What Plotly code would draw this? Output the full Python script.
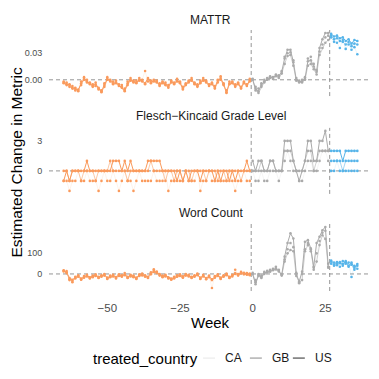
import plotly.graph_objects as go

# ---------------------------------------------------------------- data
weeks = list(range(-65, 37))
countries = ["CA", "GB", "US"]
metric_titles = ["MATTR", "Flesch\u2212Kincaid Grade Level", "Word Count"]

# MATTR (pre weeks -65..-1, mid 0..26, post 27..36)
mattr_us = [
    -0.003, -0.005, -0.006, -0.009, -0.010, -0.012, -0.004, 0.001, -0.002, -0.004,
    -0.007, -0.005, -0.009, -0.013, -0.006, 0.001, -0.001, -0.004, -0.003, -0.006,
    -0.008, -0.012, -0.004, 0.000, -0.002, -0.003, 0.000, -0.001, -0.004, 0.002,
    -0.003, -0.001, -0.002, -0.006, -0.003, -0.005, -0.008, -0.002, -0.004, -0.001,
    -0.003, -0.010, -0.005, -0.002, 0.000, -0.004, -0.007, -0.003, 0.000, -0.002,
    -0.006, -0.004, -0.009, -0.001, 0.002, -0.005, -0.014, -0.004, -0.003, -0.007,
    -0.004, -0.009, -0.003, -0.006, -0.001,
    0.000, -0.010, -0.013, -0.006, -0.002, 0.001, 0.003, 0.002, 0.005, 0.004,
    0.009, 0.024, 0.034, 0.034, 0.020, 0.000, -0.002, -0.002, 0.001, 0.021,
    0.022, 0.015, 0.009, 0.036, 0.046, 0.053, 0.053,
    0.052, 0.049, 0.050, 0.047, 0.048, 0.044, 0.046, 0.041, 0.045, 0.044,
]
mattr_gb = [
    -0.004, -0.006, -0.008, -0.010, -0.012, -0.011, -0.006, 0.000, -0.003, -0.005,
    -0.008, -0.007, -0.010, -0.014, -0.008, 0.000, -0.002, -0.005, -0.004, -0.007,
    -0.009, -0.013, -0.006, -0.001, -0.003, -0.004, -0.001, -0.002, -0.005, 0.001,
    -0.004, -0.002, -0.003, -0.007, -0.004, -0.006, -0.009, -0.003, -0.005, -0.002,
    -0.004, -0.011, -0.006, -0.003, -0.001, -0.005, -0.008, -0.004, -0.001, -0.003,
    -0.007, -0.005, -0.010, -0.003, 0.000, -0.006, -0.015, -0.005, -0.004, -0.008,
    -0.005, -0.010, -0.004, -0.007, -0.002,
    0.000, -0.012, -0.015, -0.008, -0.003, 0.000, 0.002, 0.003, 0.004, 0.002,
    0.007, 0.018, 0.027, 0.028, 0.016, -0.001, -0.003, -0.003, 0.000, 0.016,
    0.018, 0.012, 0.006, 0.028, 0.036, 0.042, 0.045,
    0.050, 0.046, 0.047, 0.044, 0.043, 0.040, 0.043, 0.038, 0.041, 0.040,
]
mattr_ca = [
    -0.002, -0.003, -0.005, -0.007, -0.009, -0.013, -0.002, 0.003, 0.000, -0.003,
    -0.005, -0.003, -0.011, -0.012, -0.004, 0.003, 0.000, -0.002, -0.001, -0.005,
    -0.006, -0.010, -0.002, 0.002, -0.001, -0.001, 0.002, 0.000, 0.010, -0.002,
    -0.001, 0.000, -0.001, -0.004, -0.002, -0.003, -0.006, -0.001, -0.003, 0.001,
    -0.002, -0.008, -0.004, -0.001, 0.002, -0.003, -0.005, -0.001, 0.002, -0.001,
    -0.005, -0.003, -0.007, 0.000, 0.004, -0.004, -0.012, -0.002, -0.002, -0.005,
    -0.003, -0.008, -0.002, -0.005, 0.001,
    0.001, -0.008, -0.010, -0.004, 0.000, 0.002, 0.004, 0.001, 0.006, 0.005,
    0.010, 0.026, 0.030, 0.031, 0.022, 0.002, -0.001, 0.000, 0.003, 0.024,
    0.026, 0.018, 0.011, 0.032, 0.040, 0.048, 0.050,
    0.048, 0.043, 0.042, 0.036, 0.045, 0.035, 0.040, 0.034, 0.037, 0.029,
]

# Flesch-Kincaid grade level
flesch_us = [
    -1, 0, -1, 0, 0, 0, 0, 0, 1, 0,
    0, 0, 0, 0, 0, 0, 0, 1, 1, 1,
    0, 1, 0, 1, 0, 0, 0, 0, 0, 1,
    1, 1, 1, 1, 0, 0, 0, 0, 0, -1,
    0, -1, 0, -1, 0, 0, 0, -1, 0, 0,
    0, 0, -1, 0, -1, 0, 0, -1, 0, -1,
    0, 0, 0, 1, 0,
    1, 0, 1, 1, 0, 0, 1, 1, 0, 0,
    0, 3, 3, 3, 1, 0, -1, 0, 1, 3,
    3, 1, 1, 3, 3, 4, 2,
    2, 2, 2, 2, 1, 2, 2, 2, 2, 2,
]
flesch_gb = [
    0, 0, -1, 0, 0, 0, -1, 0, 0, 0,
    0, -1, 0, 0, 0, 0, 1, 0, 0, 0,
    0, 0, -1, 0, 0, 0, 0, 0, 0, 0,
    1, 0, 0, 0, 0, -1, 0, 0, -1, 0,
    0, -1, 0, 0, -1, 0, 0, 0, 0, -1,
    0, 0, 0, -1, 0, 0, -1, 0, 0, 0,
    0, -1, 0, 0, 0,
    0, 0, 0, 1, 0, 0, 1, 1, 0, 0,
    0, 2, 2, 2, 1, 0, 0, 0, 1, 2,
    2, 0, 1, 2, 2, 2, 2,
    1, 1, 1, 1, 0, 1, 1, 1, 1, 1,
]
flesch_ca = [
    -1, -1, -2, -1, -1, 0, -1, -1, 0, -1,
    -1, -1, -2, -1, 0, -1, -1, 0, -1, -2,
    -1, 0, -1, -1, -2, -1, 0, -1, -1, -1,
    -1, 0, -1, -1, -1, 0, -2, -1, -1, 0,
    -1, -1, 0, -1, -1, -1, 0, -2, -1, -1,
    0, -1, -1, 0, -1, -1, -1, 0, -1, -2,
    -1, -1, 0, -1, -1,
    0, -1, -1, 0, -1, -1, 0, 0, 0, -1,
    0, 1, 2, 1, 0, 0, -1, -1, 0, 1,
    1, 0, 0, 1, 2, 2, 1,
    0, 0, 1, 0, 0, 0, 0, 0, 0, 0,
]

# Word count
wc_us = [
    15, 8, -20, -28, -18, -10, -22, -14, -8, -16,
    -12, -6, -14, -10, -4, -18, -12, -8, -15, -6,
    -10, -2, -14, -8, -12, -18, -6, -3, -10, -14,
    2, 14, 8, -4, -12, -8, -16, -22, -18, -10,
    -6, -12, -4, -8, -14, -10, -2, -18, -8, -20,
    -12, -26, -14, -6, -18, -10, -2, -14, -8, 4,
    -4, 6, 2, 0, -2,
    0, -50, -5, -15, 5, 10, 11, 20, 27, 15,
    -5, 84, 150, 197, 172, 0, -37, 11, 156, 164,
    124, 35, 150, 180, 212, 228, 35,
    60, 55, 50, 58, 48, 62, 40, 55, 30, 48,
]
wc_gb = [
    18, 4, -26, -34, -22, -14, -26, -18, -12, -20,
    -16, -10, -18, -14, -8, -22, -16, -12, -19, -10,
    -14, -6, -18, -12, -16, -22, -10, -7, -14, -18,
    -2, 10, 4, -8, -16, -12, -20, -26, -22, -14,
    -10, -16, -8, -12, -18, -14, -6, -22, -12, -24,
    -16, -30, -18, -10, -22, -14, -6, -18, -12, 0,
    -8, 2, -2, -4, -6,
    0, -40, -10, -20, 0, 8, 15, 18, 22, 12,
    -8, 60, 100, 116, 110, -10, -40, -30, 110, 140,
    120, 20, 60, 140, 188, 170, 30,
    50, 45, 42, 52, 40, 55, 35, 45, 20, 40,
]
wc_ca = [
    12, 14, -30, -40, -14, -6, -28, -10, -4, -22,
    -8, -2, -20, -6, 0, -24, -8, -4, -22, -2,
    -6, 4, -20, -4, -8, -24, -2, 2, -6, -20,
    8, 23, 12, 0, -8, -4, -22, -28, -14, -6,
    -2, -18, 0, -4, -20, -6, 2, -24, -4, -26,
    -8, -68, -10, -2, -24, -6, 2, -20, -4, 20,
    0, 10, 6, 4, 2,
    5, -30, 0, -8, 10, 15, 20, 25, 35, 20,
    0, 70, 120, 150, 130, 5, -45, 0, 120, 150,
    110, 30, 100, 160, 200, 210, 50,
    65, 40, 58, 35, 62, 50, 55, -15, 40, 25,
]

series = [
    {"CA": mattr_ca, "GB": mattr_gb, "US": mattr_us},
    {"CA": flesch_ca, "GB": flesch_gb, "US": flesch_us},
    {"CA": wc_ca, "GB": wc_gb, "US": wc_us},
]

y_tickvals = [[0, 0.03], [0, 3], [0, 100]]
y_ticktext = [["0.00", "0.03"], ["0", "3"], ["0", "100"]]
x_tickvals = [-50, -25, 0, 25]
x_ticktext = ["\u221250", "\u221225", "0", "25"]

# ---------------------------------------------------------------- style
FONT = "Liberation Sans"
period_colors = {"pre": (250, 154, 92), "mid": (170, 170, 170), "post": (86, 180, 233)}
line_alpha = {"CA": 0.12, "GB": 0.55, "US": 1.0}
periods = [("pre", -100, -1), ("mid", 0, 26), ("post", 27, 100)]
domains = [[0.747, 1.0], [0.372, 0.625], [0.0, 0.257]]
title_y = [1.038, 0.670, 0.299]
cutoffs = [-0.5, 26.5]
DASH = "4px,3px"

# ggplot-style bottom legend, in paper units of the plot area
LEG_Y = -0.257
LEG_TITLE_X = 0.130
LEG_KEY_X = [0.477, 0.622, 0.755]   # left end of each key line
LEG_KEY_W = 0.037
LEG_TEXT_DX = 0.062


def rgba(c, a):
    return f"rgba({c[0]},{c[1]},{c[2]},{a})"


def sfx(r):
    return "" if r == 1 else str(r)


fig = go.Figure()

for r, rows in enumerate(series, start=1):
    for c in countries:
        vals = rows[c]
        for p, lo, hi in periods:
            xs = [w for w in weeks if lo <= w <= hi]
            ys = [v for w, v in zip(weeks, vals) if lo <= w <= hi]
            fig.add_trace(go.Scatter(
                x=xs, y=ys, mode="lines+markers",
                line=dict(color=rgba(period_colors[p], line_alpha[c]), width=1),
                marker=dict(color=rgba(period_colors[p], 1), size=2.6),
                xaxis=f"x{sfx(r)}", yaxis=f"y{sfx(r)}",
                showlegend=False, hoverinfo="skip",
            ))

# body margin of the page offsets the figure by 8px, so the figure is 371px
layout = dict(
    width=371, height=371,
    margin=dict(l=41, r=7, t=22, b=88),
    paper_bgcolor="white", plot_bgcolor="white",
    font=dict(family=FONT, color="#1a1a1a"),
    showlegend=False,
)

for r in range(1, 4):
    all_vals = series[r - 1]["CA"] + series[r - 1]["GB"] + series[r - 1]["US"]
    lo, hi = min(all_vals), max(all_vals)
    pad = (hi - lo) * 0.05
    xa = dict(
        anchor=f"y{sfx(r)}", range=[-70.05, 41.05], showgrid=False, zeroline=False,
        showline=False, tickvals=x_tickvals, ticktext=x_ticktext,
        showticklabels=(r == 3), ticks="outside", ticklen=6,
        tickcolor="rgba(0,0,0,0)", tickfont=dict(size=11.5, color="#4d4d4d"),
    )
    if r != 3:
        xa["matches"] = "x3"
    layout[f"xaxis{sfx(r)}"] = xa
    layout[f"yaxis{sfx(r)}"] = dict(
        anchor=f"x{sfx(r)}", domain=domains[r - 1], range=[lo - pad, hi + pad],
        showgrid=False, zeroline=False, showline=False,
        tickvals=y_tickvals[r - 1], ticktext=y_ticktext[r - 1],
        ticks="outside", ticklen=4, tickcolor="rgba(0,0,0,0)",
        tickfont=dict(size=9, color="#4d4d4d"),
    )

fig.update_layout(**layout)

shapes = []
annotations = []
for r in range(1, 4):
    shapes.append(dict(
        type="line", xref=f"x{sfx(r)} domain", yref=f"y{sfx(r)}", x0=0, x1=1, y0=0, y1=0,
        line=dict(color="#8a8a8a", width=0.9, dash=DASH), layer="below",
    ))
    for xc in cutoffs:
        shapes.append(dict(
            type="line", xref=f"x{sfx(r)}", yref=f"y{sfx(r)} domain", x0=xc, x1=xc, y0=0, y1=1,
            line=dict(color="#8a8a8a", width=0.9, dash=DASH), layer="below",
        ))
    annotations.append(dict(
        text=metric_titles[r - 1], xref="paper", yref="paper", x=0.5, y=title_y[r - 1],
        showarrow=False, font=dict(size=12, color="#1a1a1a"), yanchor="middle",
    ))

annotations.append(dict(
    text="Week", xref="paper", yref="paper", x=0.5, y=-0.119, showarrow=False,
    font=dict(size=15, color="#000000"), yanchor="middle",
))
annotations.append(dict(
    text="Estimated Change in Metric", xref="paper", yref="paper", x=-0.099, y=0.492,
    showarrow=False, textangle=-90, font=dict(size=15.5, color="#000000"),
    xanchor="center", yanchor="middle",
))

# legend: title, then a short line key and label per country
annotations.append(dict(
    text="treated_country", xref="paper", yref="paper", x=LEG_TITLE_X, y=LEG_Y,
    showarrow=False, xanchor="left", yanchor="middle",
    font=dict(size=15, color="#000000"),
))
for c, kx in zip(countries, LEG_KEY_X):
    shapes.append(dict(
        type="line", xref="paper", yref="paper", x0=kx, x1=kx + LEG_KEY_W,
        y0=LEG_Y, y1=LEG_Y,
        line=dict(color=f"rgba(0,0,0,{line_alpha[c] * 0.7})", width=1.2),
    ))
    annotations.append(dict(
        text=c, xref="paper", yref="paper", x=kx + LEG_TEXT_DX, y=LEG_Y,
        showarrow=False, xanchor="left", yanchor="middle",
        font=dict(size=12, color="#1a1a1a"),
    ))

fig.update_layout(shapes=shapes, annotations=annotations)

fig.write_html("out.html")
